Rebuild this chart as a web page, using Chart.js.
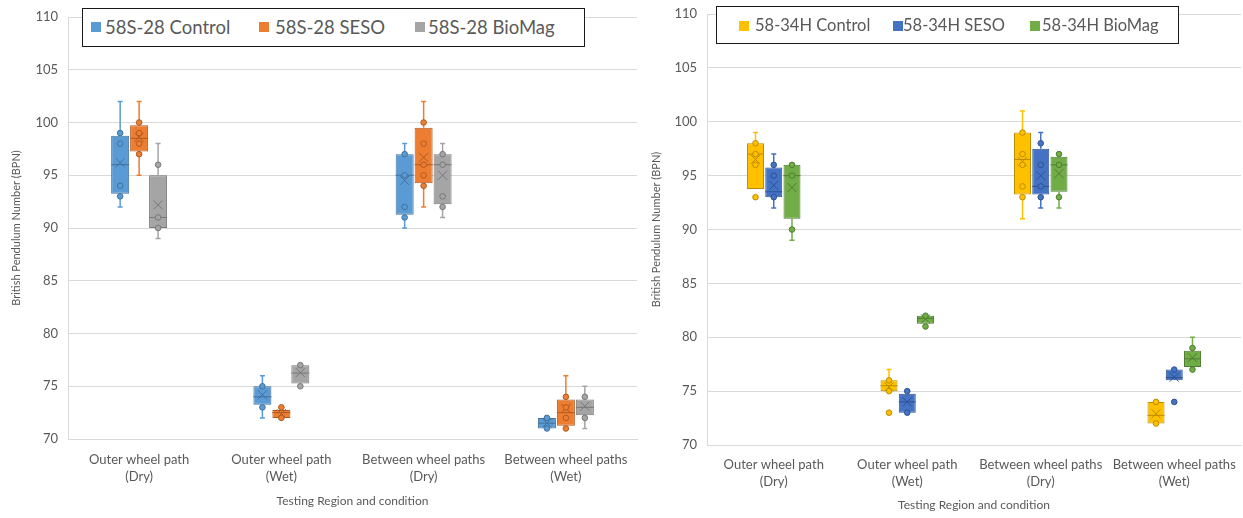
<!DOCTYPE html>
<html>
<head>
<meta charset="utf-8">
<script src="https://cdn.jsdelivr.net/npm/chart.js@4.4.1/dist/chart.umd.min.js"></script>
<style>
  body { margin: 0; background: #fff; font-family: Lato, sans-serif; }
  #wrap { position: relative; width: 1243px; height: 518px; }
  canvas { position: absolute; top: 0; }
  #leftChart { left: 0; }
  #rightChart { left: 640px; }
  .legend { position: absolute; border: 1.5px solid #1a1a1a; background: #fff; box-sizing: border-box; }
  .legend span { position: absolute; color: #595959; white-space: nowrap; }
  .legend i { position: absolute; width: 10px; height: 10px; }
</style>
</head>
<body>
<div id="wrap">
  <canvas id="leftChart" width="640" height="518"></canvas>
  <canvas id="rightChart" width="603" height="518"></canvas>
  <div class="legend" style="left:82px;top:8px;width:503px;height:39px;font-size:18.5px">
    <i style="left:8px;top:13px;background:#5B9BD5"></i><span style="left:22px;top:7px">58S-28 Control</span>
    <i style="left:176px;top:13px;background:#ED7D31"></i><span style="left:192px;top:7px">58S-28 SESO</span>
    <i style="left:332px;top:13px;background:#A5A5A5"></i><span style="left:345px;top:7px">58S-28 BioMag</span>
  </div>
  <div class="legend" style="left:716px;top:6px;width:463px;height:38px;font-size:16.5px">
    <i style="left:22px;top:14px;background:#FFC000"></i><span style="left:38px;top:8px">58-34H Control</span>
    <i style="left:176px;top:14px;background:#4472C4"></i><span style="left:186px;top:8px">58-34H SESO</span>
    <i style="left:313px;top:14px;background:#70AD47"></i><span style="left:325px;top:8px">58-34H BioMag</span>
  </div>
</div>
<script>
// categories shared by both panels
const categories = [
  ['Outer wheel path', '(Dry)'],
  ['Outer wheel path', '(Wet)'],
  ['Between wheel paths', '(Dry)'],
  ['Between wheel paths', '(Wet)']
];

// left panel: 58S-28 binder, [series][category]
const leftSeries = ['58S-28 Control', '58S-28 SESO', '58S-28 BioMag'];
const leftMin    = [[92, 72, 90, 71], [95, 72, 92, 71], [89, 75, 91, 71]];
const leftQ1     = [[93.25, 73.25, 91.25, 71], [97.25, 72, 94.25, 71.25], [90, 75.25, 92.25, 72.25]];
const leftMedian = [[96, 74, 95, 71.5], [98.5, 72.5, 96, 72.5], [91, 76.25, 96, 73]];
const leftQ3     = [[98.75, 75, 97, 72], [99.75, 72.75, 99.5, 73.75], [95, 77, 97, 73.75]];
const leftMax    = [[102, 76, 98, 72], [102, 73, 102, 76], [98, 77, 98, 75]];
const leftMean   = [[96.2, 74.2, 94.5, 71.5], [98.6, 72.4, 96.7, 72.9], [92.2, 76.3, 95, 73.1]];
const leftPoints = [
  [[99, 98, 94, 93], [75, 73], [97, 95, 92, 91], [72, 71]],
  [[100, 99, 98, 97], [73, 72], [100, 98, 96, 95, 94], [74, 73, 72, 71]],
  [[96, 91, 90], [77, 75], [97, 96, 93, 92], [74, 72]]
];

// right panel: 58-34H binder, [series][category]
const rightSeries = ['58-34H Control', '58-34H SESO', '58-34H BioMag'];
const rightMin    = [[93.75, 75, 91, 72], [92, 73, 92, 76], [89, 81, 92, 77]];
const rightQ1     = [[93.75, 75, 93.25, 72], [93, 73, 93.25, 76], [91, 81.25, 93.5, 77.25]];
const rightMedian = [[97, 75.5, 96.5, 72.75], [93.5, 74, 94, 76.25], [95, 81.75, 96, 78]];
const rightQ3     = [[98, 76, 99, 74], [95.75, 74.75, 97.5, 77], [96, 82, 96.75, 78.75]];
const rightMax    = [[99, 77, 101, 74], [97, 75, 99, 77], [96, 82, 97, 80]];
const rightMean   = [[96.5, 75.4, 96.3, 72.9], [94.1, 74, 95, 76.3], [93.9, 81.7, 95.2, 78.1]];
const rightPoints = [
  [[98, 97, 96, 93], [76, 75, 73], [99, 97, 96, 94, 93], [74, 72]],
  [[96, 95, 93], [75, 73], [98, 96, 94, 93], [77, 74]],
  [[96, 95, 90], [82, 81], [97, 96, 93], [79, 77]]
];

const yTicks = { min: 70, max: 110, step: 5 };

const leftColors   = ['#5B9BD5', '#ED7D31', '#A5A5A5'];
const leftBorders  = ['#41719C', '#AE5A21', '#787878'];
const rightColors  = ['#FFC000', '#4472C4', '#70AD47'];
const rightBorders = ['#BC8C00', '#2F528F', '#507E32'];

const textGrey = '#595959';
const gridGrey = '#d9d9d9';

function boxPlugin(st) {
  return {
    id: 'boxExtras',
    beforeDatasetsDraw(chart) {
      const ctx = chart.ctx, y = chart.scales.y;
      ctx.save();
      chart.data.datasets.forEach((ds, s) => {
        chart.getDatasetMeta(s).data.forEach((el, c) => {
          const cap = 2.5;
          ctx.strokeStyle = st.colors[s];
          ctx.lineWidth = 1.5;
          const ends = [[st.q3[s][c], st.max[s][c]], [st.q1[s][c], st.min[s][c]]];
          ends.forEach(([from, to]) => {
            if (from === to) return;
            ctx.beginPath();
            ctx.moveTo(el.x, y.getPixelForValue(from));
            ctx.lineTo(el.x, y.getPixelForValue(to));
            ctx.moveTo(el.x - cap, y.getPixelForValue(to));
            ctx.lineTo(el.x + cap, y.getPixelForValue(to));
            ctx.stroke();
          });
        });
      });
      ctx.restore();
    },
    afterDatasetsDraw(chart) {
      const ctx = chart.ctx, y = chart.scales.y;
      ctx.save();
      chart.data.datasets.forEach((ds, s) => {
        chart.getDatasetMeta(s).data.forEach((el, c) => {
          const half = el.width / 2;
          ctx.strokeStyle = st.borders[s];
          ctx.lineWidth = 1;
          // median
          const my = y.getPixelForValue(st.median[s][c]);
          ctx.beginPath();
          ctx.moveTo(el.x - half, my);
          ctx.lineTo(el.x + half, my);
          ctx.stroke();
          // mean marker
          const xy = y.getPixelForValue(st.mean[s][c]);
          const k = 4.5;
          ctx.beginPath();
          ctx.moveTo(el.x - k, xy - k); ctx.lineTo(el.x + k, xy + k);
          ctx.moveTo(el.x + k, xy - k); ctx.lineTo(el.x - k, xy + k);
          ctx.stroke();
          // points
          st.points[s][c].forEach(v => {
            ctx.beginPath();
            ctx.arc(el.x, y.getPixelForValue(v), 2.8, 0, Math.PI * 2);
            ctx.fillStyle = st.colors[s];
            ctx.fill();
            ctx.stroke();
          });
        });
      });
      ctx.restore();
    }
  };
}

function makeBoxChart(id, series, colors, borders, q1, q3, stats, cfg) {
  const datasets = series.map((name, s) => ({
    label: name,
    data: q1[s].map((v, c) => [v, q3[s][c]]),
    backgroundColor: colors[s],
    borderColor: borders[s],
    borderWidth: 1,
    borderSkipped: false,
    categoryPercentage: cfg.catPct,
    barPercentage: cfg.barPct
  }));
  return new Chart(document.getElementById(id), {
    type: 'bar',
    data: { labels: categories, datasets: datasets },
    options: {
      responsive: false,
      animation: false,
      devicePixelRatio: 1,
      layout: { padding: cfg.padding },
      plugins: { legend: { display: false }, tooltip: { enabled: false } },
      scales: {
        x: {
          grid: { display: false },
          border: { color: gridGrey },
          ticks: { color: textGrey, font: { family: 'Lato', size: 13, lineHeight: 1.3 }, padding: cfg.xPad, maxRotation: 0, autoSkip: false },
          title: { display: true, text: 'Testing Region and condition', color: textGrey, font: { family: 'Lato', size: 12 }, padding: { top: 4, bottom: 4 } },
          afterFit: s => { s.height = cfg.xHeight; }
        },
        y: {
          min: yTicks.min, max: yTicks.max,
          grid: { color: gridGrey, drawTicks: false },
          border: { color: gridGrey },
          ticks: { stepSize: yTicks.step, color: textGrey, font: { family: 'Lato', size: 13 }, padding: 10 },
          title: { display: true, text: 'British Pendulum Number (BPN)', color: textGrey, font: { family: 'Lato', size: 11 }, padding: { top: 10, bottom: 0 } },
          afterFit: s => { s.width = cfg.yWidth; s.paddingTop = 0; s.paddingBottom = 0; }
        }
      }
    },
    plugins: [boxPlugin(Object.assign({ colors, borders, q1, q3 }, stats))]
  });
}

makeBoxChart('leftChart', leftSeries, leftColors, leftBorders, leftQ1, leftQ3,
  { min: leftMin, max: leftMax, median: leftMedian, mean: leftMean, points: leftPoints },
  { catPct: 0.40, barPct: 0.95, padding: { top: 17, right: 3, bottom: 6, left: 0 }, xHeight: 73, yWidth: 68, xPad: 4 });

makeBoxChart('rightChart', rightSeries, rightColors, rightBorders, rightQ1, rightQ3,
  { min: rightMin, max: rightMax, median: rightMedian, mean: rightMean, points: rightPoints },
  { catPct: 0.41, barPct: 0.93, padding: { top: 14, right: 2, bottom: 2, left: 0 }, xHeight: 71, yWidth: 67, xPad: 3 });
</script>
</body>
</html>
